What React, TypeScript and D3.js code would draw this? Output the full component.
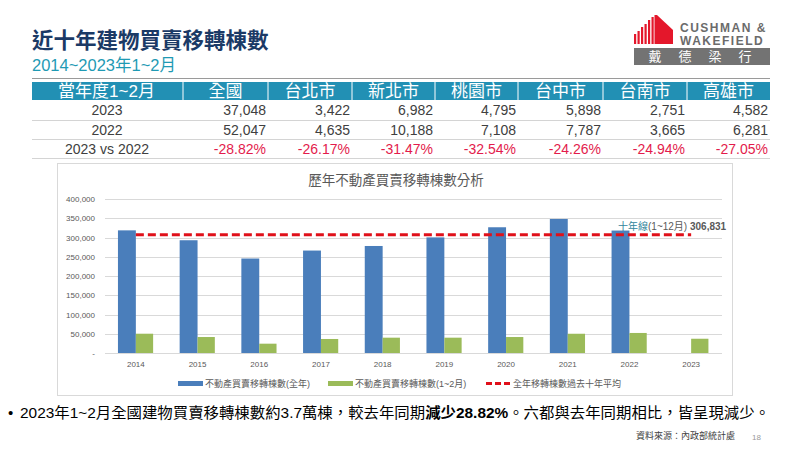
import React from "react";
import * as d3 from "d3";

const years = ["2014", "2015", "2016", "2017", "2018", "2019", "2020", "2021", "2022", "2023"];
const fullYear: (number | null)[] = [318546, 292887, 245396, 266086, 277967, 300271, 326589, 348194, 318027, null];
const janFeb = [50100, 41500, 24200, 36400, 39800, 39800, 41500, 50000, 52047, 37048];
const tenYearAvg = 306831;
const yTicks = [0, 50000, 100000, 150000, 200000, 250000, 300000, 350000, 400000];

const tableHeaders = ["當年度1~2月", "全國", "台北市", "新北市", "桃園市", "台中市", "台南市", "高雄市"];
const rowLabels = ["2023", "2022", "2023 vs 2022"];
const values2023 = [37048, 3422, 6982, 4795, 5898, 2751, 4582];
const values2022 = [52047, 4635, 10188, 7108, 7787, 3665, 6281];
const changes = ["-28.82%", "-26.17%", "-31.47%", "-32.54%", "-24.26%", "-24.94%", "-27.05%"];
const logoChars = ["戴", "德", "梁", "行"];

const FONT = "'Liberation Sans', Arial, 'Noto Sans CJK TC', sans-serif";
const BLUE = "#4a7ebb";
const GREEN = "#9bbb59";
const RED = "#e0101a";
const TEAL = "#2290b4";
const GRAY = "#595959";

export default function App() {
  const W = 792, H = 456;
  const x = d3.scaleBand<string>().domain(years).range([105, 722]).padding(0);
  const y = d3.scaleLinear().domain([0, 400000]).range([353, 199]);
  const bw = x.bandwidth();
  const blueW = bw * 0.29;
  const greenW = bw * 0.28;
  const cx = (yr: string) => (x(yr) as number) + bw / 2;
  const fmt = d3.format(",");

  const colEdges = [32, 183, 268, 352, 435, 518, 603, 687, 770];
  const rowTops = [82, 100, 120, 139, 158];

  const avgLine = d3.line<[number, number]>()([
    [cx(years[0]), y(tenYearAvg)],
    [cx(years[years.length - 1]), y(tenYearAvg)],
  ]);

  const stripes = [
    { x: 634, top: 34 }, { x: 637.5, top: 31 }, { x: 641, top: 27 },
    { x: 644.5, top: 24 }, { x: 648, top: 20 }, { x: 651.5, top: 17 },
  ];

  return (
    <svg width={W} height={H} style={{ position: "absolute", left: 0, top: 0, background: "#fff" }} fontFamily={FONT}>
      {/* Title */}
      <text x={32} y={48} fontSize={21.5} fontWeight="bold" fill="#1b3a66">近十年建物買賣移轉棟數</text>
      <text x={32} y={71} fontSize={16.5} fill="#1f9ab4">2014~2023年1~2月</text>
      <line x1={32} x2={770} y1={78.5} y2={78.5} stroke="#9a9a9a" strokeWidth={1} />

      {/* Logo */}
      <g>
        {stripes.map((s, i) => (
          <rect key={i} x={s.x} y={s.top} width={2.2} height={44 - s.top} fill="#e4172b" />
        ))}
        <polygon points="654.5,15 657,15 673,30 673,44 654.5,44" fill="#e4172b" />
        <text x={680} y={31.5} fontSize={12} fontWeight="bold" fill="#6b6b6b" letterSpacing={1.5}>CUSHMAN &amp;</text>
        <text x={680} y={44.5} fontSize={12} fontWeight="bold" fill="#6b6b6b" letterSpacing={1.5}>WAKEFIELD</text>
        <rect x={634} y={48} width={136} height={17} fill="#737373" />
        {logoChars.map((c, i) => (
          <text key={c} x={655 + i * 30} y={61} fontSize={13} fill="#fff" textAnchor="middle" fontFamily="'Noto Sans CJK TC', sans-serif">{c}</text>
        ))}
      </g>

      {/* Table */}
      <rect x={colEdges[0]} y={rowTops[0]} width={colEdges[8] - colEdges[0]} height={rowTops[1] - rowTops[0]} fill={TEAL} />
      {colEdges.slice(1, 8).map((e, i) => (
        <line key={i} x1={e} x2={e} y1={rowTops[0]} y2={rowTops[1]} stroke="#fff" strokeWidth={1} />
      ))}
      {tableHeaders.map((h, i) => (
        <text key={h} x={(colEdges[i] + colEdges[i + 1]) / 2 + (i === 0 ? -1 : 0)} y={97} fontSize={17} fill="#fff" textAnchor="middle">{h}</text>
      ))}
      {rowTops.slice(2).map((t, i) => (
        <line key={i} x1={32} x2={770} y1={t + 0.5} y2={t + 0.5} stroke="#d4d4d4" strokeWidth={1} />
      ))}
      {rowLabels.map((r, ri) => (
        <text key={r} x={107} y={rowTops[ri + 1] + 15} fontSize={14} fill="#404040" textAnchor="middle">{r}</text>
      ))}
      {values2023.map((v, i) => (
        <text key={"a" + i} x={colEdges[i + 2] - 2} y={rowTops[1] + 15} fontSize={14} fill="#404040" textAnchor="end">{fmt(v)}</text>
      ))}
      {values2022.map((v, i) => (
        <text key={"b" + i} x={colEdges[i + 2] - 2} y={rowTops[2] + 15} fontSize={14} fill="#404040" textAnchor="end">{fmt(v)}</text>
      ))}
      {changes.map((v, i) => (
        <text key={"c" + i} x={colEdges[i + 2] - 2} y={rowTops[3] + 15} fontSize={14} fill="#e31b4c" textAnchor="end">{v}</text>
      ))}

      {/* Chart frame */}
      <rect x={57.5} y={163.5} width={675} height={232} fill="#fff" stroke="#d9d9d9" strokeWidth={1} />
      <text x={396} y={185} fontSize={13.5} fill={GRAY} textAnchor="middle">歷年不動產買賣移轉棟數分析</text>

      {yTicks.map((t) => (
        <g key={t}>
          <line x1={105} x2={722} y1={Math.round(y(t)) + 0.5} y2={Math.round(y(t)) + 0.5} stroke="#d9d9d9" strokeWidth={1} />
          <text x={95} y={y(t) + 3} fontSize={8} fill={GRAY} textAnchor="end">{t === 0 ? "-" : fmt(t)}</text>
        </g>
      ))}

      {years.map((yr, i) => {
        const c = cx(yr);
        const fv = fullYear[i];
        return (
          <g key={yr}>
            {fv !== null && (
              <rect x={c - blueW} y={y(fv)} width={blueW} height={y(0) - y(fv)} fill={BLUE} />
            )}
            <rect x={c} y={y(janFeb[i])} width={greenW} height={y(0) - y(janFeb[i])} fill={GREEN} />
            <text x={c} y={367} fontSize={8} fill={GRAY} textAnchor="middle">{yr}</text>
          </g>
        );
      })}

      <path d={avgLine || ""} stroke={RED} strokeWidth={3} strokeDasharray="8,4" fill="none" />
      <text x={618} y={230} fontSize={10}>
        <tspan fill="#31859c">十年線</tspan>
        <tspan fill={GRAY}>(1~12月) </tspan>
        <tspan fill={GRAY} fontWeight="bold">{fmt(tenYearAvg)}</tspan>
      </text>

      <rect x={178} y={381} width={25} height={5} fill={BLUE} />
      <text x={205} y={387} fontSize={9} fill={GRAY}>不動產買賣移轉棟數(全年)</text>
      <rect x={328} y={381} width={25} height={5} fill={GREEN} />
      <text x={355} y={387} fontSize={9} fill={GRAY}>不動產買賣移轉棟數(1~2月)</text>
      <line x1={486} x2={511} y1={383.5} y2={383.5} stroke={RED} strokeWidth={3} strokeDasharray="6,3" />
      <text x={513} y={387} fontSize={9} fill={GRAY}>全年移轉棟數過去十年平均</text>

      <text x={8} y={418} fontSize={15} fill="#000">•</text>
      <text x={20} y={418} fontSize={15} fill="#000" textLength={750} lengthAdjust="spacingAndGlyphs">
        2023年1~2月全國建物買賣移轉棟數約3.7萬棟，較去年同期<tspan fontWeight="bold">減少28.82%</tspan>。六都與去年同期相比，皆呈現減少。
      </text>
      <text x={636} y={439} fontSize={9} fill="#404040">資料來源：內政部統計處</text>
      <text x={752} y={440} fontSize={8} fill="#9a9a9a">18</text>
    </svg>
  );
}
